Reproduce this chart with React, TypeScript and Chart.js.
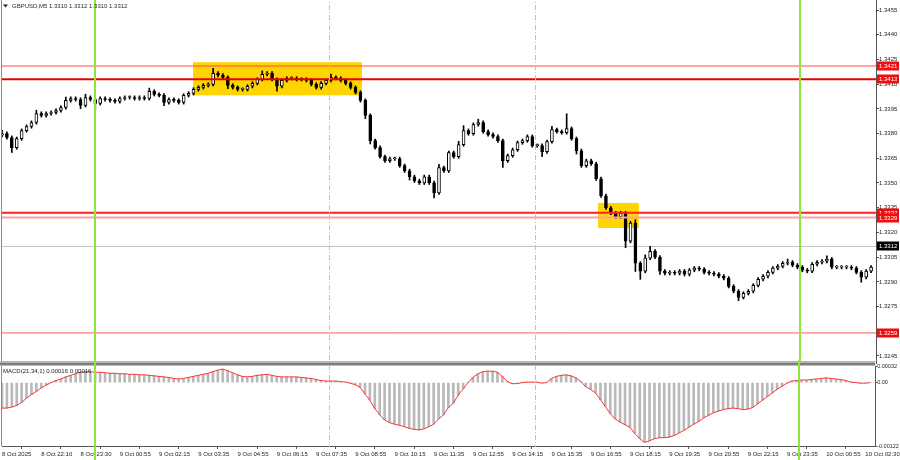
import React, { useEffect, useRef } from 'react';
import { Chart, registerables } from 'chart.js';

Chart.register(...registerables);

// ---------------- data ----------------
const symbolTitle = 'GBPUSD,M5';
const headerQuote = ['1.3310', '1.3312', '1.3310', '1.3312'];
const macdTitle = 'MACD(21,34,1)';
const macdReadout = ['0.00016', '0.00016'];

// one tick label every 8 candles (10-minute candles)
const tickLabels = [
  '8 Oct 2025', '8 Oct 22:10', '8 Oct 23:30', '9 Oct 00:55', '9 Oct 02:15', '9 Oct 03:35',
  '9 Oct 04:55', '9 Oct 06:15', '9 Oct 07:35', '9 Oct 08:55', '9 Oct 10:15', '9 Oct 11:35',
  '9 Oct 12:55', '9 Oct 14:15', '9 Oct 15:35', '9 Oct 16:55', '9 Oct 18:15', '9 Oct 19:35',
  '9 Oct 20:55', '9 Oct 22:15', '9 Oct 23:35', '10 Oct 00:55', '10 Oct 02:30',
];
const candlesPerTick = 8;

const firstOpen = 1.3379;
const closes = [
  1.33800, 1.33776, 1.33715, 1.33769, 1.33818, 1.33843, 1.33867, 1.33922, 1.33910, 1.33922,
  1.33928, 1.33940, 1.33958, 1.34001, 1.34013, 1.34007, 1.33971, 1.34019, 1.34007, 1.33983,
  1.34013, 1.34007, 1.34001, 1.33995, 1.34013, 1.34019, 1.34019, 1.34013, 1.34019, 1.34013,
  1.34056, 1.34038, 1.34032, 1.33989, 1.34007, 1.34001, 1.33989, 1.34032, 1.34044, 1.34068,
  1.34080, 1.34093, 1.34099, 1.34166, 1.34154, 1.34141, 1.34093, 1.34080, 1.34068, 1.34068,
  1.34087, 1.34105, 1.34129, 1.34160, 1.34166, 1.34129, 1.34087, 1.34123, 1.34135, 1.34135,
  1.34129, 1.34129, 1.34123, 1.34099, 1.34080, 1.34105, 1.34123, 1.34141, 1.34135, 1.34123,
  1.34105, 1.34080, 1.34050, 1.34001, 1.33910, 1.33757, 1.33715, 1.33660, 1.33635, 1.33647,
  1.33647, 1.33605, 1.33574, 1.33538, 1.33513, 1.33501, 1.33538, 1.33501, 1.33440, 1.33593,
  1.33574, 1.33684, 1.33660, 1.33733, 1.33818, 1.33800, 1.33855, 1.33867, 1.33812, 1.33794,
  1.33782, 1.33757, 1.33635, 1.33666, 1.33702, 1.33745, 1.33757, 1.33782, 1.33727, 1.33727,
  1.33690, 1.33751, 1.33824, 1.33812, 1.33806, 1.33830, 1.33769, 1.33696, 1.33605, 1.33635,
  1.33617, 1.33526, 1.33422, 1.33349, 1.33318, 1.33294, 1.33318, 1.33147, 1.33257, 1.33013,
  1.32965, 1.33044, 1.33086, 1.33050, 1.32965, 1.32952, 1.32958, 1.32952, 1.32965, 1.32946,
  1.32971, 1.32983, 1.32977, 1.32958, 1.32952, 1.32946, 1.32934, 1.32922, 1.32873, 1.32843,
  1.32806, 1.32830, 1.32843, 1.32879, 1.32916, 1.32934, 1.32958, 1.32983, 1.32995, 1.33013,
  1.33019, 1.33001, 1.32989, 1.32971, 1.32965, 1.33007, 1.33019, 1.33025, 1.33038, 1.32989,
  1.32989, 1.32989, 1.32989, 1.32983, 1.32958, 1.32928, 1.32965, 1.32989,
];
// wick lengths above / below the candle body, in pips
const upperWicks = [
  2, 1, 1, 1, 1, 1, 1, 2, 1, 1,
  1, 1, 1, 2, 1, 1, 1, 2, 1, 1,
  1, 1, 1, 1, 1, 1, 1, 1, 1, 1,
  2, 1, 1, 1, 1, 1, 1, 1, 1, 1,
  1, 1, 1, 3, 1, 1, 1, 1, 1, 1,
  1, 1, 1, 2, 1, 1, 1, 1, 1, 1,
  1, 1, 1, 1, 1, 1, 1, 2, 1, 1,
  1, 1, 1, 1, 1, 1, 1, 1, 1, 1,
  1, 1, 1, 1, 1, 1, 1, 1, 1, 2,
  1, 1, 1, 2, 3, 1, 1, 2, 1, 1,
  1, 1, 1, 1, 1, 1, 1, 1, 1, 1,
  1, 1, 2, 1, 1, 9, 1, 1, 1, 1,
  1, 1, 1, 1, 1, 1, 1, 1, 1, 2,
  1, 2, 3, 1, 1, 1, 1, 1, 1, 1,
  1, 1, 1, 1, 1, 1, 1, 1, 1, 1,
  1, 1, 1, 1, 1, 1, 1, 1, 1, 1,
  2, 1, 1, 1, 1, 1, 1, 1, 2, 1,
  1, 1, 1, 1, 1, 1, 1, 1,
];
const lowerWicks = [
  1, 1, 3, 1, 1, 1, 1, 1, 1, 1,
  1, 1, 1, 1, 1, 1, 2, 1, 1, 4,
  1, 1, 1, 1, 1, 1, 1, 1, 1, 1,
  1, 1, 1, 2, 1, 1, 1, 1, 1, 1,
  1, 1, 1, 1, 1, 1, 2, 1, 1, 1,
  1, 1, 1, 1, 1, 1, 3, 1, 1, 1,
  1, 1, 1, 1, 1, 1, 1, 1, 1, 1,
  1, 1, 1, 1, 2, 2, 1, 1, 1, 1,
  1, 1, 1, 2, 1, 1, 1, 1, 3, 1,
  1, 1, 1, 1, 1, 1, 1, 1, 1, 1,
  1, 1, 4, 1, 1, 1, 1, 1, 1, 1,
  3, 1, 1, 1, 1, 1, 1, 2, 1, 1,
  1, 1, 1, 1, 1, 1, 1, 4, 1, 5,
  5, 1, 1, 1, 2, 1, 1, 1, 1, 1,
  1, 1, 1, 1, 1, 1, 1, 1, 1, 1,
  2, 1, 1, 1, 1, 1, 1, 1, 1, 1,
  1, 1, 1, 1, 1, 1, 1, 1, 1, 1,
  1, 1, 1, 1, 1, 3, 1, 1,
];
const pip = 0.0001;

const macdValues = [
  -0.00049, -0.00049, -0.00047, -0.00044, -0.00038, -0.00030, -0.00023, -0.00017, -0.00010, -0.00005,
  0.00000, 0.00004, 0.00007, 0.00011, 0.00014, 0.00017, 0.00020, 0.00021, 0.00021, 0.00020,
  0.00020, 0.00019, 0.00018, 0.00018, 0.00017, 0.00017, 0.00016, 0.00016, 0.00015, 0.00015,
  0.00014, 0.00013, 0.00012, 0.00011, 0.00010, 0.00008, 0.00007, 0.00008, 0.00010, 0.00012,
  0.00014, 0.00016, 0.00018, 0.00021, 0.00024, 0.00026, 0.00023, 0.00019, 0.00015, 0.00012,
  0.00011, 0.00012, 0.00014, 0.00015, 0.00016, 0.00014, 0.00012, 0.00011, 0.00011, 0.00011,
  0.00011, 0.00010, 0.00009, 0.00008, 0.00006, 0.00004, 0.00003, 0.00003, 0.00003, 0.00002,
  0.00001, -0.00001, -0.00004, -0.00009, -0.00022, -0.00034, -0.00050, -0.00062, -0.00072, -0.00077,
  -0.00080, -0.00082, -0.00085, -0.00088, -0.00090, -0.00091, -0.00089, -0.00085, -0.00080, -0.00070,
  -0.00062, -0.00048, -0.00040, -0.00024, -0.00012, 0.00000, 0.00010, 0.00017, 0.00021, 0.00022,
  0.00022, 0.00020, 0.00012, 0.00002, -0.00002, -0.00002, 0.00000, 0.00001, 0.00001, 0.00001,
  -0.00001, 0.00000, 0.00008, 0.00012, 0.00014, 0.00015, 0.00013, 0.00009, 0.00002, -0.00008,
  -0.00013, -0.00020, -0.00033, -0.00046, -0.00060, -0.00070, -0.00076, -0.00081, -0.00086, -0.00098,
  -0.00108, -0.00115, -0.00112, -0.00108, -0.00106, -0.00106, -0.00105, -0.00102, -0.00097, -0.00092,
  -0.00086, -0.00080, -0.00075, -0.00068, -0.00063, -0.00058, -0.00055, -0.00052, -0.00050, -0.00049,
  -0.00050, -0.00052, -0.00051, -0.00048, -0.00041, -0.00034, -0.00027, -0.00020, -0.00013, -0.00007,
  -0.00001, 0.00003, 0.00004, 0.00005, 0.00005, 0.00006, 0.00007, 0.00008, 0.00009, 0.00008,
  0.00007, 0.00006, 0.00004, 0.00001, 0.00000, -0.00001, -0.00001, 0.00000,
];

const priceTicks = [
  1.3455, 1.3440, 1.3425, 1.3410, 1.3395, 1.3380, 1.3365, 1.3350,
  1.3335, 1.3320, 1.3305, 1.3290, 1.3275, 1.3260, 1.3245,
];
const priceMin = 1.324075;
const priceMax = 1.346107;
const macdTicks = [0.00032, 0, -0.00122];

const levels = [1.3421, 1.3413, 1.3332, 1.3329, 1.3259];
const currentPrice = 1.3312;
// positions in candle-index units
const dayLines = [18.9, 162.5];
const sessionLines = [66.6, 108.6];
// highlighted zones
const zoneFrom = [38.9, 121.4];
const zoneTo = [73.3, 129.7];
const zoneTop = [1.34233, 1.33379];
const zoneBottom = [1.34032, 1.33227];

// ---------------- styles ----------------
const FONT = "'Liberation Sans', Arial, sans-serif";
const levelStyles = [
  { color: '#ff4a4a', width: 1 },
  { color: '#e80000', width: 2 },
  { color: '#ff2020', width: 2 },
  { color: '#ffa0a0', width: 2 },
  { color: '#ff5a5a', width: 1 },
];
const PLOT_LEFT = 2;
const AXIS_W = 24;
const MAIN_H = 363;
const MACD_TOP = 366 - 360;

export default function App() {
  const mainRef = useRef<HTMLCanvasElement>(null);
  const macdRef = useRef<HTMLCanvasElement>(null);

  useEffect(() => {
    document.body.style.margin = '0';
    document.body.style.background = '#ffffff';

    const n = closes.length;
    const slots = n + 1;
    const slotLabels = Array.from({ length: slots }, (_, i) =>
      i % candlesPerTick === 0 ? tickLabels[i / candlesPerTick] ?? '' : ''
    );
    const opens = closes.map((c, i) => (i === 0 ? firstOpen : closes[i - 1]));
    const highs = closes.map((c, i) => Math.max(opens[i], c) + upperWicks[i] * pip);
    const lows = closes.map((c, i) => Math.min(opens[i], c) - lowerWicks[i] * pip);

    const tickFont = { family: FONT, size: 6, lineHeight: '10px' };
    const macdTickFont = { family: FONT, size: 5.5, lineHeight: '10px' };

    const line = (ctx: CanvasRenderingContext2D, x0: number, y0: number, x1: number, y1: number) => {
      ctx.beginPath();
      ctx.moveTo(x0, y0);
      ctx.lineTo(x1, y1);
      ctx.stroke();
    };

    const mainOverlay = {
      id: 'mainOverlay',
      beforeDatasetsDraw(chart: any) {
        const { ctx, chartArea: ca, scales } = chart;
        const x = scales.x, y = scales.y;
        ctx.save();
        ctx.strokeStyle = '#c4c4c4';
        ctx.lineWidth = 1;
        const cy = Math.round(y.getPixelForValue(currentPrice)) + 0.5;
        line(ctx, ca.left, cy, ca.right, cy);
        ctx.fillStyle = '#ffd500';
        for (let k = 0; k < zoneFrom.length; k++) {
          const x0 = x.getPixelForValue(zoneFrom[k]);
          const x1 = x.getPixelForValue(zoneTo[k]);
          const y0 = y.getPixelForValue(zoneTop[k]);
          const y1 = y.getPixelForValue(zoneBottom[k]);
          ctx.fillRect(x0, y0, x1 - x0, y1 - y0);
        }
        ctx.restore();
      },
      afterDatasetsDraw(chart: any) {
        const { ctx, chartArea: ca, scales } = chart;
        const x = scales.x, y = scales.y;
        ctx.save();
        levels.forEach((lv, k) => {
          const st = levelStyles[k];
          ctx.strokeStyle = st.color;
          ctx.lineWidth = st.width;
          const py = y.getPixelForValue(lv);
          line(ctx, ca.left, py, ca.right, py);
        });
        ctx.strokeStyle = '#8fe43e';
        ctx.lineWidth = 2;
        dayLines.forEach((d) => {
          const px = Math.round(x.getPixelForValue(d));
          line(ctx, px, 0, px, ca.bottom);
        });
        ctx.strokeStyle = '#9fe35a';
        ctx.lineWidth = 1;
        ctx.setLineDash([5, 2, 1, 2]);
        sessionLines.forEach((d) => {
          const px = Math.round(x.getPixelForValue(d)) + 0.5;
          line(ctx, px, 0, px, ca.bottom);
        });
        ctx.restore();
      },
      afterDraw(chart: any) {
        const { ctx, chartArea: ca, scales, width } = chart;
        const y = scales.y;
        ctx.save();
        ctx.strokeStyle = '#8a8a8a';
        ctx.lineWidth = 1;
        line(ctx, 1.5, 0, 1.5, ca.bottom);
        ctx.font = `6px ${FONT}`;
        ctx.textBaseline = 'middle';
        ctx.textAlign = 'left';
        const drawTag = (value: number, bg: string) => {
          const py = Math.round(y.getPixelForValue(value));
          ctx.fillStyle = bg;
          ctx.fillRect(ca.right + 1, py - 4.5, width - ca.right - 2, 9);
          ctx.fillStyle = '#ffffff';
          ctx.fillText(value.toFixed(4), ca.right + 3, py + 0.5);
        };
        levels.forEach((lv) => drawTag(lv, '#f20d0d'));
        drawTag(currentPrice, '#000000');
        const top = ca.top;
        ctx.fillStyle = '#222222';
        ctx.beginPath();
        ctx.moveTo(3, top + 4.5);
        ctx.lineTo(8, top + 4.5);
        ctx.lineTo(5.5, top + 7.5);
        ctx.closePath();
        ctx.fill();
        ctx.fillStyle = '#2a2a2a';
        ctx.fillText(symbolTitle, 12, top + 6);
        ctx.fillText(headerQuote.join(' '), 49, top + 6);
        ctx.restore();
      },
    };

    const macdOverlay = {
      id: 'macdOverlay',
      afterDraw(chart: any) {
        const { ctx, chartArea: ca, scales, height } = chart;
        const x = scales.x;
        ctx.save();
        ctx.fillStyle = '#b4b4b4';
        ctx.fillRect(0, 1, ca.right, 2);
        ctx.fillStyle = '#7c7c7c';
        ctx.fillRect(0, 3, ca.right, 2.5);
        ctx.strokeStyle = '#8a8a8a';
        ctx.lineWidth = 1;
        line(ctx, 1.5, ca.top, 1.5, ca.bottom);
        ctx.font = `6px ${FONT}`;
        ctx.textBaseline = 'middle';
        ctx.textAlign = 'left';
        ctx.fillStyle = '#222222';
        ctx.fillText(`${macdTitle} ${macdReadout.join(' ')}`, 3, ca.top + 5);
        ctx.strokeStyle = '#8fe43e';
        ctx.lineWidth = 2;
        dayLines.forEach((d) => {
          const px = Math.round(x.getPixelForValue(d));
          line(ctx, px, 0, px, height);
        });
        ctx.strokeStyle = '#9fe35a';
        ctx.lineWidth = 1;
        ctx.setLineDash([5, 2, 1, 2]);
        sessionLines.forEach((d) => {
          const px = Math.round(x.getPixelForValue(d)) + 0.5;
          line(ctx, px, 5, px, ca.bottom + 1);
        });
        ctx.restore();
      },
    };

    const fixWidth = (scale: any) => {
      scale.width = AXIS_W;
    };

    const mainChart = new Chart(mainRef.current as HTMLCanvasElement, {
      type: 'bar',
      data: {
        labels: slotLabels,
        datasets: [
          {
            label: 'wick',
            data: closes.map((_, i) => [lows[i], highs[i]]) as any,
            backgroundColor: '#000000',
            barThickness: 1,
            grouped: false,
            order: 2,
          } as any,
          {
            label: 'body',
            data: closes.map((c, i) => [opens[i], c]) as any,
            backgroundColor: (c: any) => (closes[c.dataIndex] >= opens[c.dataIndex] ? '#ffffff' : '#000000'),
            borderColor: '#000000',
            borderWidth: 1,
            borderSkipped: false,
            barThickness: 3,
            minBarLength: 1,
            grouped: false,
            order: 1,
          } as any,
        ],
      },
      options: {
        responsive: false,
        maintainAspectRatio: false,
        animation: false,
        devicePixelRatio: 1,
        events: [],
        layout: { padding: { left: PLOT_LEFT, right: 0, top: 0, bottom: 0 } },
        plugins: { legend: { display: false }, tooltip: { enabled: false } },
        scales: {
          x: { type: 'category', offset: false, display: false },
          y: {
            position: 'right',
            min: priceMin,
            max: priceMax,
            afterBuildTicks: (s: any) => {
              s.ticks = priceTicks.map((v) => ({ value: v }));
            },
            afterFit: fixWidth,
            ticks: {
              font: tickFont as any,
              color: '#1e1e1e',
              padding: 0,
              callback: (v: any) => Number(v).toFixed(4),
            },
            grid: { drawOnChartArea: false, tickLength: 3, color: '#555555' },
            border: { display: true, color: '#555555' },
          },
        },
      } as any,
      plugins: [mainOverlay],
    });

    const ca = mainChart.chartArea;
    const plotH = ca.bottom - ca.top;
    if (Math.abs(plotH - MAIN_H) > 0.25) {
      mainChart.resize(900, Math.round(mainChart.height + MAIN_H - plotH));
    }
    (mainRef.current as HTMLCanvasElement).style.top = `${-Math.round(mainChart.chartArea.top)}px`;

    const macdChart = new Chart(macdRef.current as HTMLCanvasElement, {
      type: 'bar',
      data: {
        labels: slotLabels,
        datasets: [
          {
            type: 'line',
            label: 'signal',
            data: macdValues,
            borderColor: '#ff3636',
            borderWidth: 1,
            pointRadius: 0,
            tension: 0,
            order: 1,
          } as any,
          {
            type: 'bar',
            label: 'macd',
            data: macdValues,
            backgroundColor: '#b9b9b9',
            barThickness: 2,
            order: 2,
          } as any,
        ],
      },
      options: {
        responsive: false,
        maintainAspectRatio: false,
        animation: false,
        devicePixelRatio: 1,
        events: [],
        layout: { padding: { left: PLOT_LEFT, right: 0, top: MACD_TOP, bottom: 0 } },
        plugins: { legend: { display: false }, tooltip: { enabled: false } },
        scales: {
          x: {
            type: 'category',
            offset: false,
            ticks: {
              autoSkip: false,
              maxRotation: 0,
              minRotation: 0,
              align: 'start',
              padding: 0,
              font: tickFont as any,
              color: '#1e1e1e',
              callback: (_v: any, i: number) => (slotLabels[i] ? slotLabels[i] : null),
            },
            grid: { drawOnChartArea: false, tickLength: 3, color: '#555555' },
            border: { display: true, color: '#555555' },
          },
          y: {
            position: 'right',
            min: macdTicks[2],
            max: macdTicks[0],
            afterBuildTicks: (s: any) => {
              s.ticks = macdTicks.map((v) => ({ value: v }));
            },
            afterFit: fixWidth,
            ticks: {
              font: macdTickFont as any,
              color: '#1e1e1e',
              padding: 0,
              callback: (v: any) => (Number(v) === 0 ? '0.00' : Number(v).toFixed(5)),
            },
            grid: { drawOnChartArea: false, tickLength: 2, color: '#555555' },
            border: { display: true, color: '#555555' },
          },
        },
      } as any,
      plugins: [macdOverlay],
    });

    const mb = macdChart.chartArea;
    const wantBottom = 446 - 360;
    if (Math.abs(mb.bottom - wantBottom) > 0.25) {
      (macdChart.options as any).layout.padding.bottom = Math.max(0, mb.bottom - wantBottom);
      macdChart.update();
    }

    return () => {
      mainChart.destroy();
      macdChart.destroy();
    };
  }, []);

  return (
    <div style={{ position: 'relative', width: 900, height: 460, background: '#ffffff', overflow: 'hidden' }}>
      <canvas ref={mainRef} width={900} height={375} style={{ position: 'absolute', left: 0, top: 0 }} />
      <canvas ref={macdRef} width={900} height={100} style={{ position: 'absolute', left: 0, top: 360 }} />
    </div>
  );
}
